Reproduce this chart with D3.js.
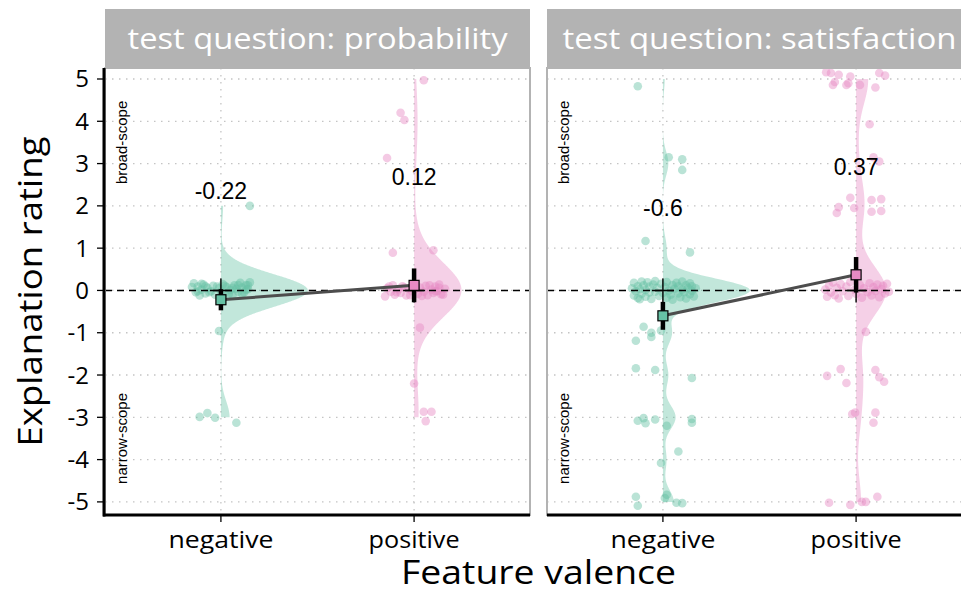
<!DOCTYPE html>
<html>
<head>
<meta charset="utf-8">
<script src="https://cdn.jsdelivr.net/npm/d3@7"></script>
<style>
  html, body { margin: 0; padding: 0; background: #fff; }
  svg { display: block; }
</style>
</head>
<body>
<svg id="chart" width="961" height="592"></svg>
<script>
// ---- data ----------------------------------------------------------------
const panelTitles = ["test question: probability", "test question: satisfaction"];
const categories = ["negative", "positive"];
const yTicks = [5, 4, 3, 2, 1, 0, -1, -2, -3, -4, -5];

// group means (labelled) and their standard errors
const means = [[-0.22, 0.12], [-0.6, 0.37]];
const meanLabels = ["-0.22", "0.12", "-0.6", "0.37"];
const stdErrs = [[0.25, 0.40], [0.33, 0.42]];
const medians = [[0, 0], [0, 0]];
const labelHeights = [[2.35, 2.68], [1.95, 2.92]];

// individual ratings: [rating, horizontal jitter, vertical jitter]
const probNeg = [
  [2, 0.15, 0.0], [-1, -0.01, 0.04],
  [-3, -0.11, 0.01], [-3, -0.07, 0.10], [-3, -0.03, -0.01], [-3, 0.08, -0.13],
  [0,-0.14,0.17],[0,-0.13,-0.04],[0,-0.12,0.09],[0,-0.11,-0.12],[0,-0.10,0.02],[0,-0.09,0.14],
  [0,-0.08,-0.07],[0,-0.07,0.06],[0,-0.05,-0.02],[0,-0.04,0.11],[0,-0.03,-0.10],[0,-0.01,0.05],
  [0,0.01,0.15],[0,0.02,-0.06],[0,0.03,0.08],[0,0.05,0.01],[0,0.06,-0.11],[0,0.07,0.12],
  [0,0.08,0.04],[0,0.09,-0.03],[0,0.10,0.18],[0,0.11,0.07],[0,0.12,-0.05],[0,0.13,0.13],
  [0,0.14,0.03],[0,0.15,0.19],
  [0,-0.15,0.08],[0,-0.12,-0.02],[0,-0.10,0.16],[0,-0.08,0.10],[0,-0.06,-0.04],[0,-0.02,0.09],
  [0,0.00,-0.03],[0,0.02,0.11],[0,0.04,-0.09],[0,0.06,0.06],[0,0.09,0.13],[0,0.11,-0.08],
  [0,0.13,0.02],[0,0.14,0.12]
];
const probPos = [
  [5, 0.05, -0.03], [4, -0.07, 0.20], [4, -0.05, 0.03], [3, -0.14, 0.13],
  [1, -0.11, -0.11], [1, 0.10, -0.05], [-1, 0.03, 0.12], [-2, 0.0, -0.2],
  [-3, 0.05, 0.13], [-3, 0.09, 0.13], [-3, 0.06, -0.09],
  [0,-0.15,-0.14],[0,-0.14,0.05],[0,-0.12,-0.03],[0,-0.11,0.12],[0,-0.10,-0.10],[0,-0.08,0.03],
  [0,-0.07,-0.06],[0,-0.06,0.10],[0,-0.04,-0.12],[0,-0.03,0.04],[0,-0.01,-0.02],[0,0.00,0.15],
  [0,0.02,-0.08],[0,0.03,0.07],[0,0.05,-0.03],[0,0.06,0.11],[0,0.07,-0.11],[0,0.09,0.02],
  [0,0.10,-0.06],[0,0.11,0.09],[0,0.12,-0.02],[0,0.13,0.14],[0,0.14,-0.09],[0,0.16,0.04],
  [0,-0.13,0.09],[0,-0.09,-0.04],[0,-0.05,0.07],[0,-0.02,-0.11],[0,0.01,0.04],[0,0.04,-0.13],
  [0,0.08,0.12],[0,0.11,-0.02],[0,0.13,0.06],[0,0.15,-0.10]
];
const satNeg = [
  [5, -0.13, -0.17],
  [3, 0.03, 0.15], [3, 0.10, 0.10], [3, 0.10, -0.15],
  [1, -0.09, 0.17], [1, 0.14, -0.10],
  [-1, -0.10, 0.14], [-1, -0.06, 0.0], [-1, -0.06, -0.10], [-1, -0.01, 0.05], [-1, -0.14, -0.19],
  [-2, -0.14, 0.16], [-2, -0.04, 0.12], [-2, 0.15, -0.07],
  [-3, -0.13, -0.08], [-3, -0.10, -0.02], [-3, -0.09, -0.14], [-3, -0.04, -0.05],
  [-3, 0.02, -0.20], [-3, 0.15, -0.04], [-3, 0.15, -0.13],
  [-4, 0.08, 0.19], [-4, -0.01, -0.08],
  [-5, -0.14, 0.12], [-5, -0.13, -0.09], [-5, 0.02, 0.17], [-5, 0.01, 0.09], [-5, 0.07, -0.02], [-5, 0.10, -0.03],
  [0,-0.16,0.05],[0,-0.15,-0.12],[0,-0.15,0.18],[0,-0.14,-0.02],[0,-0.13,0.10],[0,-0.13,-0.18],
  [0,-0.12,0.03],[0,-0.11,0.21],[0,-0.11,-0.08],[0,-0.10,0.12],[0,-0.09,-0.15],[0,-0.09,0.01],
  [0,-0.08,0.19],[0,-0.07,-0.05],[0,-0.07,0.09],[0,-0.06,-0.20],[0,-0.05,0.14],[0,-0.04,-0.03],
  [0,-0.04,0.22],[0,-0.03,0.06],[0,-0.02,-0.13],[0,-0.01,0.16],[0,0.00,-0.06],[0,0.01,0.08],
  [0,0.02,-0.17],[0,0.02,0.20],[0,0.03,0.00],[0,0.04,-0.10],[0,0.05,0.13],[0,0.05,-0.22],
  [0,0.06,0.04],[0,0.07,0.18],[0,0.08,-0.07],[0,0.08,0.10],[0,0.09,-0.16],[0,0.10,0.02],
  [0,0.10,0.21],[0,0.11,-0.04],[0,0.12,0.12],[0,0.12,-0.19],[0,0.13,0.06],[0,0.14,-0.09],
  [0,0.14,0.17],[0,0.15,-0.01],[0,0.15,0.10],[0,0.16,-0.14],[0,0.17,0.05],[0,-0.12,-0.21]
];
const satPos = [
  [5,-0.13,0.14],[5,-0.09,0.10],[5,-0.03,0.06],[5,-0.05,-0.14],[5,-0.12,-0.14],[5,-0.11,-0.07],
  [5,0.02,-0.14],[5,0.12,0.14],[5,0.15,0.08],[5,0.10,-0.20],[5,-0.04,-0.10],[5,-0.155,0.16],
  [4, 0.07, -0.07],
  [3, 0.09, 0.15], [3, 0.12, 0.05],
  [2,-0.09,-0.03],[2,-0.10,-0.17],[2,-0.03,0.19],[2,-0.01,-0.05],[2,0.08,0.14],[2,0.13,0.16],[2,0.08,-0.14],[2,0.13,-0.12],
  [-1, 0.05, 0.02],
  [-2,-0.15,-0.02],[-2,-0.08,0.14],[-2,-0.05,-0.19],[-2,0.10,0.12],[-2,0.12,-0.05],[-2,0.145,-0.16],
  [-3,-0.005,0.11],[-3,-0.02,0.08],[-3,0.10,0.11],[-3,0.09,-0.13],
  [-5,-0.14,-0.02],[-5,-0.03,-0.07],[-5,0.03,0.0],[-5,0.05,0.0],[-5,0.11,0.12],
  [0,-0.16,0.02],[0,-0.15,-0.15],[0,-0.14,0.12],[0,-0.13,-0.05],[0,-0.12,0.19],[0,-0.11,-0.11],
  [0,-0.10,0.06],[0,-0.09,-0.19],[0,-0.08,0.15],[0,-0.07,-0.02],[0,-0.05,0.09],[0,-0.04,-0.13],
  [0,-0.03,0.20],[0,-0.01,0.01],[0,0.00,-0.08],[0,0.02,0.13],[0,0.03,-0.17],[0,0.04,0.05],
  [0,0.06,-0.04],[0,0.07,0.17],[0,0.08,-0.12],[0,0.09,0.08],[0,0.10,-0.01],[0,0.11,0.14],
  [0,0.12,-0.16],[0,0.13,0.03],[0,0.14,0.11],[0,0.15,-0.07],[0,0.16,0.16],[0,0.17,-0.03]
];
const groups = [[probNeg, probPos], [satNeg, satPos]];
const colors = ["#66c2a5", "#e78ac3"];

// ---- layout ----------------------------------------------------------------
const panelX = [[105, 530], [547, 972]];
const panelTop = 68, panelBottom = 515, stripTop = 9;
const sansUI = "'Open Sans', 'Noto Sans', sans-serif";
const sansPlain = "'Liberation Sans', Arial, sans-serif";
// rendered widths of the wide geometric labels
const stripWidths = [380, 394];
const catWidths = [105, 91];

const svg = d3.select("#chart");
const y = d3.scaleLinear().domain([-5.31, 5.26]).range([panelBottom, panelTop]);

// Gaussian KDE with R's bw.nrd0 bandwidth, trimmed to the data range
function quantile7(sorted, p) {
  const h = (sorted.length - 1) * p, lo = Math.floor(h);
  return sorted[lo] + (h - lo) * ((sorted[Math.min(lo + 1, sorted.length - 1)]) - sorted[lo]);
}
function bwNrd0(v) {
  const s = v.slice().sort(d3.ascending);
  const sd = d3.deviation(s);
  const iqr = quantile7(s, 0.75) - quantile7(s, 0.25);
  let lo = Math.min(sd, iqr / 1.34);
  if (!lo) lo = sd || Math.abs(s[0]) || 1;
  return 0.9 * lo * Math.pow(s.length, -0.2);
}
function density(v) {
  const bw = bwNrd0(v);
  const [mn, mx] = d3.extent(v);
  const n = 512, out = [];
  for (let i = 0; i < n; i++) {
    const t = mn + (mx - mn) * i / (n - 1);
    let s = 0;
    for (const d of v) { const z = (t - d) / bw; s += Math.exp(-0.5 * z * z); }
    out.push([t, s / (v.length * bw * Math.sqrt(2 * Math.PI))]);
  }
  return out;
}

panelTitles.forEach((title, p) => {
  const [x0, x1] = panelX[p];
  const x = d3.scaleLinear().domain([0.4, 2.6]).range([x0, x1]);
  const g = svg.append("g");

  // strip
  g.append("rect").attr("x", x0).attr("y", stripTop).attr("width", x1 - x0)
    .attr("height", panelTop - stripTop).attr("fill", "#b3b3b3");
  g.append("text").attr("x", (x0 + x1) / 2).attr("y", 49)
    .attr("text-anchor", "middle").attr("fill", "#fff")
    .attr("textLength", stripWidths[p]).attr("lengthAdjust", "spacingAndGlyphs")
    .style("font-family", sansUI).style("font-size", "30px").text(title);

  const plot = g.append("g");
  const clipId = "clip" + p;
  svg.append("clipPath").attr("id", clipId).append("rect")
    .attr("x", x0).attr("y", panelTop).attr("width", x1 - x0).attr("height", panelBottom - panelTop);
  plot.attr("clip-path", `url(#${clipId})`);

  // dotted grid
  plot.selectAll(".hg").data(yTicks).join("line")
    .attr("x1", x0).attr("x2", x1).attr("y1", d => y(d)).attr("y2", d => y(d))
    .attr("stroke", "#c4c4c4").attr("stroke-width", 1.3).attr("stroke-dasharray", "1.5,5.5");
  plot.selectAll(".vg").data(categories).join("line")
    .attr("x1", (d, i) => x(i + 1)).attr("x2", (d, i) => x(i + 1))
    .attr("y1", panelTop).attr("y2", panelBottom)
    .attr("stroke", "#c4c4c4").attr("stroke-width", 1.3).attr("stroke-dasharray", "1.5,5.5");

  // half violins, scaled to the widest density in the panel
  const dens = groups[p].map(gr => density(gr.map(d => d[0])));
  const maxD = d3.max(dens, ds => d3.max(ds, d => d[1]));
  dens.forEach((ds, i) => {
    const cx = i + 1;
    const area = d3.area().curve(d3.curveLinear)
      .y(d => y(d[0])).x0(x(cx)).x1(d => x(cx + 0.45 * d[1] / maxD));
    plot.append("path").attr("d", area(ds)).attr("fill", colors[i]).attr("fill-opacity", 0.4);
  });

  // jittered ratings
  groups[p].forEach((gr, i) => {
    plot.selectAll(null).data(gr).join("circle")
      .attr("cx", d => x(i + 1 + d[1])).attr("cy", d => y(d[0] + d[2])).attr("r", 4.3)
      .attr("fill", colors[i]).attr("fill-opacity", 0.45);
  });

  // reference line at zero
  plot.append("line").attr("x1", x0).attr("x2", x1).attr("y1", y(0)).attr("y2", y(0))
    .attr("stroke", "#000").attr("stroke-width", 1.5).attr("stroke-dasharray", "7,5");

  // median crosses
  medians[p].forEach((m, i) => {
    const cx = x(i + 1), cy = y(m);
    plot.append("path").attr("d", `M${cx - 11},${cy}H${cx + 11}M${cx},${cy - 12}V${cy + 12}`)
      .attr("stroke", "#000").attr("stroke-width", 1.4).attr("fill", "none");
  });

  // standard-error bars
  means[p].forEach((m, i) => {
    plot.append("line").attr("x1", x(i + 1)).attr("x2", x(i + 1))
      .attr("y1", y(m + stdErrs[p][i])).attr("y2", y(m - stdErrs[p][i]))
      .attr("stroke", "#000").attr("stroke-width", 4.5);
  });

  // line joining the means
  plot.append("path").datum(means[p])
    .attr("d", d3.line().x((d, i) => x(i + 1)).y(d => y(d)))
    .attr("stroke", "#4d4d4d").attr("stroke-width", 3).attr("fill", "none");

  // mean squares
  means[p].forEach((m, i) => {
    plot.append("rect").attr("x", x(i + 1) - 5).attr("y", y(m) - 5)
      .attr("width", 10).attr("height", 10)
      .attr("fill", colors[i]).attr("stroke", "#000").attr("stroke-width", 1.2);
  });

  // mean labels
  means[p].forEach((m, i) => {
    g.append("text").attr("x", x(i + 1)).attr("y", y(labelHeights[p][i]) + 8)
      .attr("text-anchor", "middle").style("font-family", sansPlain).style("font-size", "23px")
      .attr("fill", "#000").text(meanLabels[p * 2 + i]);
  });

  // scope annotations
  [["broad-scope", 3.5], ["narrow-scope", -3.5]].forEach(([t, v]) => {
    g.append("text").attr("transform", `translate(${x0 + 22},${y(v)}) rotate(-90)`)
      .attr("text-anchor", "middle").style("font-family", sansPlain).style("font-size", "15px")
      .attr("fill", "#000").text(t);
  });

  // panel border
  g.append("rect").attr("x", x0).attr("y", panelTop).attr("width", x1 - x0)
    .attr("height", panelBottom - panelTop).attr("fill", "none")
    .attr("stroke", "#b3b3b3").attr("stroke-width", 2);

  // bottom axis
  const xAxis = g.append("g").attr("transform", `translate(0,${panelBottom})`);
  xAxis.append("line").attr("x1", x0 - (p === 0 ? 2 : 0)).attr("x2", x1)
    .attr("stroke", "#000").attr("stroke-width", 3);
  categories.forEach((c, i) => {
    xAxis.append("line").attr("x1", x(i + 1)).attr("x2", x(i + 1)).attr("y1", 0).attr("y2", 7)
      .attr("stroke", "#000").attr("stroke-width", 1.3);
    xAxis.append("text").attr("x", x(i + 1)).attr("y", 33).attr("text-anchor", "middle")
      .attr("textLength", catWidths[i]).attr("lengthAdjust", "spacingAndGlyphs")
      .style("font-family", sansUI).style("font-size", "23px").attr("fill", "#000").text(c);
  });

  // left axis on the first panel
  if (p === 0) {
    const yAxis = g.append("g");
    yAxis.append("line").attr("x1", x0 - 1).attr("x2", x0 - 1).attr("y1", panelTop).attr("y2", panelBottom + 1.5)
      .attr("stroke", "#000").attr("stroke-width", 3);
    yAxis.selectAll(".t").data(yTicks).join("line")
      .attr("x1", x0 - 8).attr("x2", x0 - 1).attr("y1", d => y(d)).attr("y2", d => y(d))
      .attr("stroke", "#000").attr("stroke-width", 1.3);
    yAxis.selectAll(".l").data(yTicks).join("text")
      .attr("x", x0 - 16).attr("y", d => y(d) + 8.5).attr("text-anchor", "end")
      .style("font-family", sansUI).style("font-size", "24px").attr("fill", "#000")
      .text(d => d < 0 ? "-" + Math.abs(d) : d);
  }
});

// axis titles
svg.append("text").attr("transform", `translate(42,${(panelTop + panelBottom) / 2}) rotate(-90)`)
  .attr("text-anchor", "middle").attr("textLength", 310).attr("lengthAdjust", "spacingAndGlyphs")
  .style("font-family", sansUI).style("font-size", "32px")
  .attr("fill", "#000").text("Explanation rating");
svg.append("text").attr("x", (panelX[0][0] + panelX[1][1]) / 2).attr("y", 584)
  .attr("text-anchor", "middle").attr("textLength", 275).attr("lengthAdjust", "spacingAndGlyphs")
  .style("font-family", sansUI).style("font-size", "32px")
  .attr("fill", "#000").text("Feature valence");
</script>
</body>
</html>
